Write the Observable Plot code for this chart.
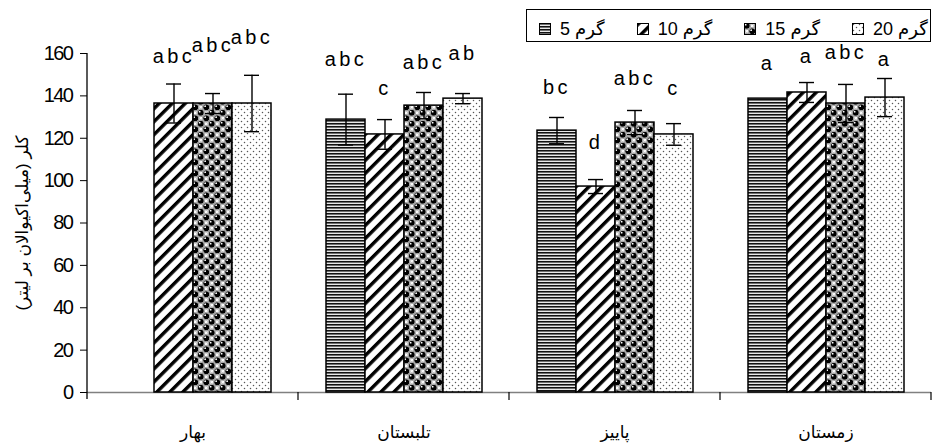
<!DOCTYPE html>
<html>
<head>
<meta charset="utf-8">
<script src="https://cdn.jsdelivr.net/npm/d3@7"></script>
<script src="https://cdn.jsdelivr.net/npm/@observablehq/plot@0.6"></script>
<style>
  body { margin: 0; background: #fff; }
  #wrap { position: relative; width: 932px; height: 446px; overflow: hidden; }
  #legend {
    position: absolute; left: 526px; top: 9px; width: 405px; height: 33px;
    border: 1px solid #000; box-sizing: border-box; background: #fff;
    display: flex; align-items: flex-end; padding: 0 0 1px 12px; white-space: nowrap;
    font-family: 'Liberation Sans', Arial, 'DejaVu Sans', sans-serif; font-size: 18px; color: #000;
  }
  .item { display: flex; align-items: center; margin-right: 32px; white-space: nowrap; flex: none; }
  .item svg { margin-right: 9px; flex: none; }
  .item span { direction: rtl; unicode-bidi: embed; letter-spacing: -0.8px; white-space: nowrap; }
</style>
</head>
<body>
<div id="wrap"><div id="chart"></div><div id="legend"></div></div>
<script>
// ---- data ----
const seasons = ["بهار", "تلبستان", "پاییز", "زمستان"];
const doses = ["5", "10", "15", "20"];
const doseNames = ["گرم 5", "گرم 10", "گرم 15", "گرم 20"];
const yLabel = "کلر (میلی‌اکیوالان بر لیتر)";
const yTicks = [0, 20, 40, 60, 80, 100, 120, 140, 160];

const mean5  = [null, 128.8, 123.6, 138.7];
const mean10 = [136.4, 121.8, 97.2, 141.6];
const mean15 = [136.4, 135.4, 127.4, 136.4];
const mean20 = [136.4, 138.7, 121.8, 139.2];

const err5  = [null, 12, 6.2, 0];
const err10 = [9.2, 7, 3.3, 4.7];
const err15 = [4.7, 6.2, 5.7, 9];
const err20 = [13.3, 2.4, 5.1, 9];

const letters5  = ["", "abc", "bc", "a"];
const letters10 = ["abc", "c", "d", "a"];
const letters15 = ["abc", "abc", "abc", "abc"];
const letters20 = ["abc", "ab", "c", "a"];

const letterLevel5  = [null, 154.3, 141.1, 152];
const letterLevel10 = [155.3, 140.2, 114.7, 155.7];
const letterLevel15 = [160.5, 152.9, 144.9, 157.6];
const letterLevel20 = [164.7, 156.7, 140.2, 154.3];

// ---- table ----
const means = [mean5, mean10, mean15, mean20];
const errs = [err5, err10, err15, err20];
const letters = [letters5, letters10, letters15, letters20];
const levels = [letterLevel5, letterLevel10, letterLevel15, letterLevel20];
const rows = [];
seasons.forEach((s, i) => doses.forEach((d, j) => {
  const v = means[j][i];
  if (v == null) return;
  rows.push({season: s, dose: d, value: v, err: errs[j][i], letter: letters[j][i], level: levels[j][i]});
}));
const withErr = rows.filter(d => d.err > 0);
const withLetter = rows.filter(d => d.letter);
const patternUrl = d => `url(#pat${d})`;

const chart = Plot.plot({
  width: 932, height: 446,
  marginLeft: 87, marginRight: 1, marginTop: 53, marginBottom: 54,
  style: {fontFamily: "'Liberation Sans', Arial, 'DejaVu Sans', sans-serif", fontSize: "18px", color: "#000", background: "#fff", overflow: "visible"},
  fx: {domain: seasons, padding: 0},
  x: {domain: doses, axis: null, paddingInner: 0, paddingOuter: 0.69},
  y: {domain: [0, 160]},
  color: {type: "ordinal", domain: doses, range: doses.map(patternUrl)},
  marks: [
    Plot.axisY({ticks: yTicks, tickSize: 7, tickPadding: 8, label: null, fontSize: 20}),
    Plot.axisY({ticks: [], tickSize: 0, label: yLabel, labelAnchor: "center", labelOffset: 72, labelArrow: "none", fontSize: 17}),
    Plot.axisFx({anchor: "bottom", tickSize: 0, tickPadding: 33, label: null, fontSize: 17}),
    Plot.ruleY([0], {stroke: "#808080", strokeWidth: 1.6}),
    Plot.barY(rows, {fx: "season", x: "dose", y: "value", fill: "dose", stroke: "#000", strokeWidth: 1.5}),
    Plot.ruleX(withErr, {fx: "season", x: "dose", y1: d => d.value - d.err, y2: d => d.value + d.err, stroke: "#000", strokeWidth: 1.4}),
    Plot.tickY(withErr, {fx: "season", x: "dose", y: d => d.value + d.err, insetLeft: 12, insetRight: 12, stroke: "#000", strokeWidth: 1.4}),
    Plot.tickY(withErr, {fx: "season", x: "dose", y: d => d.value - d.err, insetLeft: 12, insetRight: 12, stroke: "#000", strokeWidth: 1.4}),
    Plot.text(withLetter, {fx: "season", x: "dose", y: "level", text: "letter", fontSize: 20, lineAnchor: "bottom", fill: "#000"})
  ]
});
document.getElementById("chart").appendChild(chart);

// ---- patterns ----
const svg = d3.select(chart);
const defs = svg.insert("defs", ":first-child");
{
  const p = defs.append("pattern").attr("id", "pat5").attr("patternUnits", "userSpaceOnUse").attr("width", 4).attr("height", 3);
  p.append("rect").attr("width", 4).attr("height", 3).attr("fill", "#e8e8e8");
  p.append("rect").attr("width", 4).attr("height", 1).attr("fill", "#111");
  p.append("rect").attr("y", 1).attr("width", 4).attr("height", 1).attr("fill", "#6e6e6e");
}
{
  const p = defs.append("pattern").attr("id", "pat10").attr("patternUnits", "userSpaceOnUse").attr("width", 9.2).attr("height", 9.2).attr("patternTransform", "rotate(45)");
  p.append("rect").attr("width", 9.2).attr("height", 9.2).attr("fill", "#fff");
  p.append("rect").attr("width", 3.4).attr("height", 9.2).attr("fill", "#000");
}
{
  const p = defs.append("pattern").attr("id", "pat15").attr("patternUnits", "userSpaceOnUse").attr("width", 11).attr("height", 11);
  p.append("rect").attr("width", 11).attr("height", 11).attr("fill", "#fff");
  for (const [cx, cy] of [[2.75, 2.75], [8.25, 8.25], [8.25, -2.75], [-2.75, 8.25], [13.75, 2.75], [2.75, 13.75]]) {
    p.append("circle").attr("cx", cx).attr("cy", cy).attr("r", 3.9).attr("fill", "none").attr("stroke", "#9a9a9a").attr("stroke-width", 1);
    p.append("circle").attr("cx", cx).attr("cy", cy).attr("r", 3).attr("fill", "#000");
    p.append("circle").attr("cx", cx - 1.1).attr("cy", cy - 1.1).attr("r", 0.9).attr("fill", "#fff");
  }
}
{
  const p = defs.append("pattern").attr("id", "pat20").attr("patternUnits", "userSpaceOnUse").attr("width", 6).attr("height", 6);
  p.append("rect").attr("width", 6).attr("height", 6).attr("fill", "#fff");
  p.append("circle").attr("cx", 1.5).attr("cy", 1.5).attr("r", 0.75).attr("fill", "#555");
  p.append("circle").attr("cx", 4.5).attr("cy", 4.5).attr("r", 0.75).attr("fill", "#555");
}

// letter spacing for significance letters and tick labels
svg.selectAll('g[aria-label="text"] text').style("letter-spacing", "3.5px");
svg.selectAll('g[aria-label="y-axis tick label"] text').style("letter-spacing", "-1.5px");

// ---- axis lines and category boundary ticks from the library's scales ----
const fxs = chart.scale("fx"), ys = chart.scale("y");
const g = svg.append("g").attr("stroke", "#000");
const y0 = ys.apply(0), yTop = ys.apply(160);
const xLeft = fxs.apply(seasons[0]);
g.append("line").attr("x1", xLeft).attr("x2", xLeft).attr("y1", yTop).attr("y2", y0 + 7).attr("stroke-width", 1.3);
for (const s of seasons) {
  const xr = fxs.apply(s) + fxs.bandwidth;
  g.append("line").attr("x1", xr).attr("x2", xr).attr("y1", y0).attr("y2", y0 + 8).attr("stroke-width", 1.2);
}

// ---- legend ----
const legend = d3.select("#legend");
doses.forEach((d, i) => {
  const it = legend.append("div").attr("class", "item");
  const sw = it.append("svg").attr("width", 12).attr("height", 12);
  sw.append("rect").attr("x", 0.5).attr("y", 0.5).attr("width", 11).attr("height", 11).attr("fill", patternUrl(d)).attr("stroke", "#000");
  it.append("span").text(doseNames[i]);
});
</script>
</body>
</html>
